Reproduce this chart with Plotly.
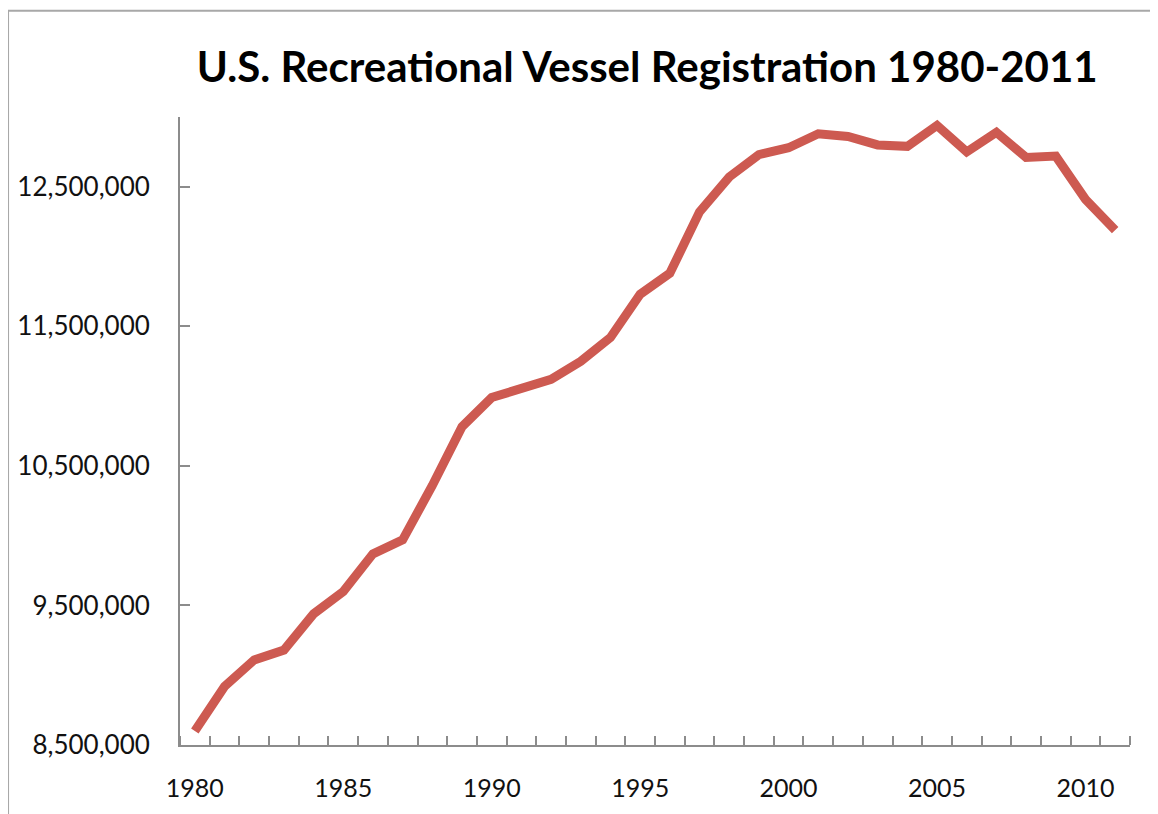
import plotly.graph_objects as go

years = list(range(1980, 2012))
registrations = [
    8600000, 8920000, 9110000, 9180000, 9440000, 9600000, 9870000, 9970000,
    10360000, 10780000, 10990000, 11060000, 11120000, 11250000, 11420000, 11730000,
    11880000, 12320000, 12570000, 12730000, 12780000, 12880000, 12860000, 12800000,
    12790000, 12940000, 12750000, 12890000, 12710000, 12720000, 12410000, 12190000,
]
y_ticks = [8500000, 9500000, 10500000, 11500000, 12500000]
x_labels = [1980, 1985, 1990, 1995, 2000, 2005, 2010]

FONT = "Lato, 'Open Sans', sans-serif"
AXIS_GREY = "#8c8c8c"

fig = go.Figure()
fig.add_trace(go.Scatter(
    x=years, y=registrations, mode="lines",
    line=dict(color="#cd5a51", width=9),
    showlegend=False, hoverinfo="x+y",
))

fig.update_layout(
    width=1158, height=814,
    paper_bgcolor="white", plot_bgcolor="white",
    margin=dict(l=172, r=36, t=109, b=77),
    font=dict(family=FONT, color="#111111"),
    title=dict(
        text="<b>U.S. Recreational Vessel Registration 1980-2011</b>",
        x=0.552, xanchor="center", y=0.9275, yanchor="middle",
        font=dict(size=42, family=FONT, color="#000000"),
    ),
)

fig.update_xaxes(
    range=[1979.5, 2011.5], automargin=False,
    tickmode="array", tickvals=x_labels, ticktext=[str(v) for v in x_labels],
    ticks="", showgrid=False, zeroline=False,
    showline=True, linecolor=AXIS_GREY, linewidth=2,
    tickfont=dict(size=25, family=FONT, color="#111111"),
    ticklabelstandoff=20,
    minor=dict(tick0=1979.5, dtick=1, ticks="inside", ticklen=9,
               tickcolor=AXIS_GREY, tickwidth=1.5, showgrid=False),
)
fig.update_yaxes(
    range=[8500000, 13000000], automargin=False,
    tickmode="array", tickvals=y_ticks, tickformat=",",
    ticks="inside", ticklen=10, tickcolor=AXIS_GREY, tickwidth=1.5,
    showgrid=False, zeroline=False,
    showline=True, linecolor=AXIS_GREY, linewidth=2,
    tickfont=dict(size=26, family=FONT, color="#111111"),
    ticklabelstandoff=23,
)

# outer frame (top and left edges visible in the original screenshot)
fig.add_shape(
    type="path", xref="paper", yref="paper", layer="below",
    path="M -0.181,-0.2 L -0.181,1.169 L 1.1,1.169",
    line=dict(color="#a8a8a8", width=2),
)

fig.write_html("out.html")
